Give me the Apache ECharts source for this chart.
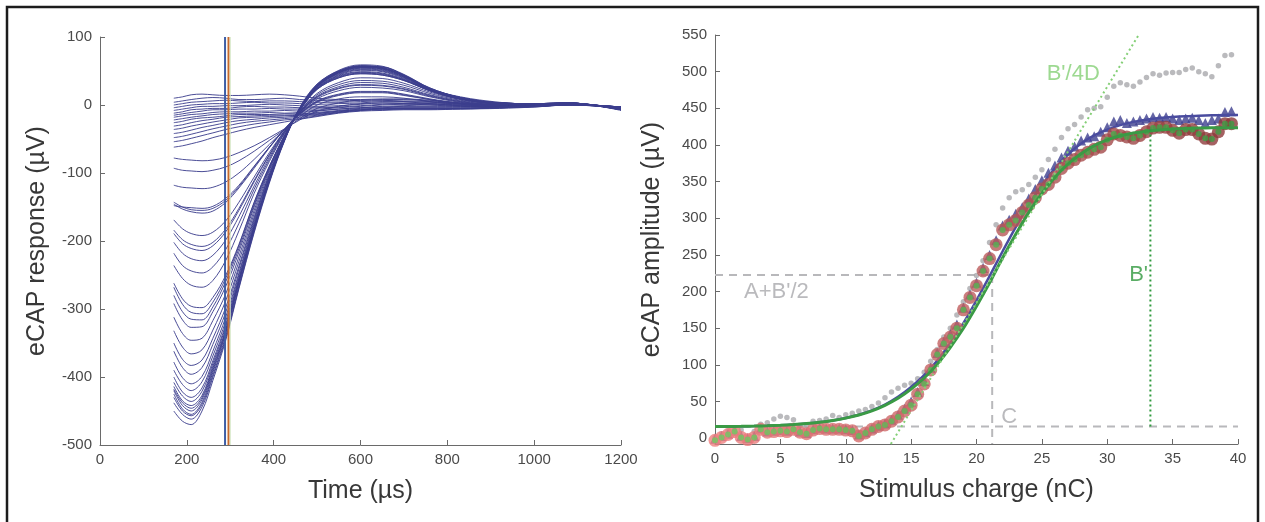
<!DOCTYPE html>
<html>
<head>
<meta charset="utf-8">
<script src="https://cdn.jsdelivr.net/npm/echarts@6/dist/echarts.min.js"></script>
<style>
  html, body { margin: 0; padding: 0; background: #ffffff; }
  #chart { width: 1265px; height: 522px; }
</style>
</head>
<body>
<div id="chart"></div>
<script>
// ---------- Left panel: eCAP waveforms ----------
const traceTimes = [170, 190, 210, 235, 260, 290, 320, 355, 390, 425, 460, 500, 550, 600, 650, 700, 760, 830, 920, 1000, 1080, 1200];

// high-stimulus responses (deep N1 trough)
const deepTraces = [
  [-450,-465,-470,-450,-405,-345,-270,-188,-115,-53,-5,30,51,59,57,45,25,11,3,2,3,-7],
  [-438,-455,-462,-444,-400,-342,-268,-186,-113,-52,-4,31,50,57,56,44,24,12,4,1,2,-6],
  [-430,-450,-457,-440,-397,-339,-266,-184,-112,-52,-6,29,49,58,55,44,25,11,3,1,3,-8],
  [-425,-447,-455,-437,-393,-335,-262,-183,-112,-51,-5,29,50,57,56,44,24,11,3,2,2,-7],
  [-420,-442,-450,-433,-390,-333,-261,-182,-111,-51,-6,28,49,57,55,43,24,10,2,1,3,-6],
  [-418,-438,-446,-430,-387,-331,-259,-180,-110,-50,-4,29,49,56,54,43,24,11,3,2,2,-7],
  [-414,-435,-442,-427,-384,-329,-258,-180,-110,-51,-6,28,48,56,54,43,23,10,2,1,3,-6],
  [-408,-428,-436,-421,-380,-325,-256,-178,-109,-50,-5,28,48,56,54,43,24,10,3,2,3,-7],
  [-400,-422,-430,-416,-376,-322,-254,-177,-108,-50,-6,28,48,55,53,42,23,10,2,1,2,-6],
  [-390,-411,-420,-407,-369,-317,-250,-174,-107,-50,-5,27,47,55,53,42,23,10,3,2,3,-7],
  [-378,-401,-410,-399,-362,-311,-247,-171,-105,-49,-6,27,47,54,52,41,23,10,2,1,2,-6],
  [-362,-386,-396,-386,-352,-304,-241,-168,-103,-49,-6,27,46,53,51,41,23,10,3,2,3,-7],
  [-350,-374,-383,-375,-343,-297,-237,-165,-102,-48,-7,26,45,52,50,40,22,9,2,1,2,-6],
  [-332,-356,-366,-360,-331,-287,-230,-160,-99,-48,-7,25,44,51,49,39,22,10,3,2,3,-7],
  [-312,-336,-346,-343,-317,-277,-223,-155,-96,-47,-7,25,43,49,47,38,22,9,2,1,2,-6],
  [-292,-316,-327,-326,-304,-266,-216,-150,-94,-46,-8,24,42,48,46,37,21,9,3,2,3,-7],
  [-280,-304,-315,-316,-297,-259,-211,-147,-92,-45,-8,24,41,47,45,37,21,9,2,1,2,-6],
  [-268,-293,-305,-307,-290,-254,-207,-144,-91,-45,-8,23,40,46,44,36,21,9,3,2,3,-6],
  [-262,-285,-296,-298,-283,-250,-205,-143,-90,-45,-8,23,40,46,44,36,21,9,2,1,3,-6]
];

// mid-stimulus responses
const midTraces = [
  [-236,-255,-265,-268,-258,-228,-185,-130,-83,-42,-10,17,33,40,39,32,19,8,1,0,2,-5],
  [-218,-236,-244,-247,-238,-212,-174,-124,-80,-41,-10,15,30,36,35,29,17,7,1,0,2,-5],
  [-202,-218,-226,-229,-221,-198,-164,-119,-77,-40,-11,13,27,33,32,26,15,6,0,-1,2,-4],
  [-189,-204,-211,-214,-207,-186,-155,-113,-74,-39,-11,12,25,30,29,24,14,5,0,-1,2,-5],
  [-184,-198,-205,-208,-202,-182,-152,-111,-73,-38,-11,11,24,29,28,23,13,5,0,0,1,-4],
  [-169,-182,-189,-192,-187,-170,-143,-106,-70,-38,-12,9,21,26,25,21,12,4,-1,-1,2,-5],
  [-146,-153,-157,-159,-156,-143,-122,-93,-63,-36,-13,6,16,20,20,16,9,3,-1,-1,2,-4],
  [-143,-150,-154,-155,-152,-140,-120,-91,-62,-35,-13,5,15,19,19,15,8,2,-1,-1,1,-4],
  [-148,-150,-151,-152,-149,-137,-118,-90,-62,-36,-14,4,14,18,18,14,8,2,-2,-1,2,-5],
  [-118,-121,-122,-123,-121,-113,-100,-80,-58,-36,-17,0,9,12,12,10,5,1,-2,-2,1,-4],
  [-93,-96,-97,-98,-96,-91,-82,-68,-52,-36,-20,-5,3,7,7,5,2,-1,-3,-2,1,-4],
  [-78,-80,-81,-82,-81,-77,-70,-60,-48,-35,-22,-9,-2,2,3,2,0,-2,-3,-2,1,-3]
];

// low-stimulus responses (near threshold)
const shallowTraces = [
  [10,12,15,16,15,14,14,15,16,15,13,10,8,8,9,9,7,3,0,-1,1,-3],
  [4,6,8,10,11,10,8,8,9,10,8,7,6,7,8,8,6,3,0,-1,1,-3],
  [0,2,4,5,6,7,6,5,6,6,5,4,4,5,6,6,5,2,0,-1,1,-4],
  [-4,-2,0,1,2,2,3,4,3,3,2,1,2,3,5,5,4,2,-1,-1,1,-3],
  [-8,-6,-4,-2,-2,-1,-1,0,1,0,-1,-2,-1,1,3,3,3,1,-1,-1,0,-3],
  [-12,-10,-7,-6,-5,-5,-3,-2,-3,-3,-4,-4,-3,-1,1,2,2,0,-2,-1,0,-4],
  [-15,-13,-11,-9,-7,-7,-6,-6,-5,-6,-6,-6,-4,-2,0,1,1,0,-2,-2,0,-3],
  [-18,-16,-14,-13,-11,-10,-10,-9,-9,-8,-9,-8,-6,-4,-2,-1,0,-1,-2,-2,0,-3],
  [-22,-20,-18,-16,-14,-13,-12,-12,-11,-12,-11,-9,-6,-4,-3,-2,-2,-2,-3,-2,0,-4],
  [-26,-24,-21,-19,-18,-16,-14,-14,-14,-13,-13,-11,-8,-5,-4,-3,-3,-3,-3,-2,0,-3],
  [-31,-29,-26,-23,-21,-18,-17,-16,-15,-15,-14,-12,-9,-6,-5,-4,-4,-4,-4,-2,1,-3],
  [-36,-34,-31,-28,-25,-22,-19,-18,-17,-16,-15,-13,-9,-7,-5,-5,-5,-5,-4,-2,1,-4],
  [-42,-40,-37,-33,-30,-26,-23,-21,-19,-18,-16,-14,-10,-7,-6,-5,-5,-5,-4,-2,1,-3],
  [-48,-46,-43,-39,-35,-31,-27,-24,-22,-20,-18,-15,-11,-8,-6,-6,-6,-5,-4,-2,1,-3],
  [-54,-52,-49,-45,-41,-36,-32,-28,-25,-22,-20,-16,-11,-8,-7,-6,-6,-6,-4,-3,1,-4],
  [-62,-60,-57,-53,-48,-43,-38,-33,-29,-25,-21,-17,-12,-9,-8,-7,-7,-6,-5,-3,0,-3]
];

// measurement window markers (µs)
const windowStart = 288;
const windowEnd = 296;
const windowEdge = 300;

// ---------- Right panel: amplitude growth function ----------
const charges = [0,0.5,1,1.5,2,2.5,3,3.5,4,4.5,5,5.5,6,6.5,7,7.5,8,8.5,9,9.5,10,10.5,11,11.5,12,12.5,13,13.5,14,14.5,15,15.5,16,16.5,17,17.5,18,18.5,19,19.5,20,20.5,21,21.5,22,22.5,23,23.5,24,24.5,25,25.5,26,26.5,27,27.5,28,28.5,29,29.5,30,30.5,31,31.5,32,32.5,33,33.5,34,34.5,35,35.5,36,36.5,37,37.5,38,38.5,39,39.5];
const grayAmp = [1,6,10,12,11,1,9,19,21,26,30,28,25,17,17,23,24,26,31,28,32,34,37,39,43,48,55,63,68,72,75,81,90,105,121,138,150,168,186,204,222,242,267,291,314,328,336,339,346,356,366,380,394,410,422,428,438,448,450,452,465,480,485,482,480,486,492,497,495,498,499,499,503,505,500,497,493,508,522,523];
const blueAmp = [-1,3,6,10,3,0,3,13,9,10,11,10,13,9,7,12,14,13,13,13,12,11,5,8,13,17,20,25,32,40,50,63,78,96,116,131,142,155,178,196,212,232,250,270,290,298,306,315,327,340,352,362,372,383,392,398,406,410,412,418,424,432,434,430,432,434,436,438,437,438,436,434,436,437,434,430,434,436,445,446];
const redAmp = [-3,1,5,9,1,-2,1,12,8,9,10,9,12,8,6,11,13,12,12,12,11,10,3,7,12,16,18,23,29,37,45,60,74,93,114,129,138,150,175,192,208,228,245,264,284,291,297,308,318,328,340,346,356,368,375,380,386,390,394,397,407,415,413,411,409,413,418,423,424,424,420,416,421,421,415,409,408,418,429,429];

const fitCharges = [0,1,2,3,4,5,6,7,8,9,10,11,12,13,14,15,16,17,18,19,20,21,22,23,24,25,26,27,28,29,30,31,32,33,34,35,36,37,38,39,40];
const greenFit = [15.8,15.9,16.1,16.4,16.9,17.6,18.6,19.9,21.7,24.1,27.3,31.6,37.3,44.8,54.3,66.8,82,101,124,150,180,212,246,278,308,334,356,374,388,399,407,412.5,416.2,418.8,420.5,421.7,422.5,423,423.3,423.5,423.6];
const blueFit = [15.8,15.9,16.1,16.4,16.9,17.6,18.6,19.9,21.7,24.2,27.5,31.9,37.9,45.8,56.3,69.8,86,106,130,157,188,221,255,288,318,345,368,387,402,413,421,427,431.5,434.5,436.7,438.2,439.3,440,440.5,440.8,441];

// sigmoid parameters drawn as guides
const baseLevel = 15.8;        // C
const halfLevel = 222.6;       // A + B'/2
const midCharge = 21.2;
const plateauCharge = 33.3;
const plateauLevel = 422;      // top of B'
const slopeStart = [13.45, -8];
const slopeEnd = [32.4, 550];

const annotationTexts = ["A+B'/2", "C", "B'/4D", "B'"];
const annotationPositions = [[4.7, 200], [22.5, 29], [27.4, 497], [32.4, 222]];

const leftTicksY = [-500, -400, -300, -200, -100, 0, 100];
const rightTicksY = [0, 50, 100, 150, 200, 250, 300, 350, 400, 450, 500, 550];

// ---------- styling ----------
const FONT = '"Liberation Sans", Arial, Helvetica, sans-serif';
const axisColor = '#6a6a6a';
const tickLabelColor = '#4a4a4a';
const titleColor = '#383838';
const traceColor = '#3c3e8d';
const annotationColors = ['#a9a9ad', '#a9a9ad', '#84cf76', '#31993f'];

function mix(a, b, t) {
  return 'rgb(' + a.map((v, i) => Math.round(v + (b[i] - v) * t)).join(',') + ')';
}

// plain numbers, no thousands separator
const plainLabel = v => String(v);

function labelStyle(margin, extra) {
  return Object.assign({ color: tickLabelColor, fontSize: 15, fontFamily: FONT, margin: margin, formatter: plainLabel }, extra || {});
}

function valueAxis(grid, extra) {
  return Object.assign({
    type: 'value',
    gridIndex: grid,
    axisLine: { show: true, onZero: false, lineStyle: { color: axisColor, width: 1 } },
    axisTick: { show: true, inside: true, length: 5, lineStyle: { color: axisColor, width: 1 } },
    axisLabel: labelStyle(7),
    splitLine: { show: false },
    nameLocation: 'middle',
    nameTextStyle: { color: titleColor, fontSize: 25, fontFamily: FONT }
  }, extra);
}

const series = [];

// waveforms
deepTraces.concat(midTraces, shallowTraces).forEach(vals => {
  series.push({
    type: 'line', xAxisIndex: 0, yAxisIndex: 0,
    data: traceTimes.map((t, i) => [t, vals[i]]),
    showSymbol: false, symbol: 'none', smooth: 0.35,
    lineStyle: { width: 1, color: traceColor, opacity: 0.92 },
    silent: true, z: 2
  });
});

// window markers
[[windowStart, '#3e5ea6', 2], [windowEnd, '#c6692c', 2], [windowEdge, '#d4e6c4', 1]].forEach(([t, c, w]) => {
  series.push({
    type: 'line', xAxisIndex: 0, yAxisIndex: 0,
    data: [[t, -500], [t, 100]],
    showSymbol: false, symbol: 'none',
    lineStyle: { width: w, color: c }, silent: true, z: 5
  });
});

// guide lines (dashed grey)
const dashStyle = { width: 2, color: '#b8b8bb', type: [8, 6] };
[
  [[0, halfLevel], [midCharge, halfLevel]],
  [[midCharge, halfLevel], [midCharge, -8]],
  [[0, baseLevel], [40, baseLevel]]
].forEach(seg => {
  series.push({
    type: 'line', xAxisIndex: 1, yAxisIndex: 1, data: seg,
    showSymbol: false, symbol: 'none', lineStyle: dashStyle, silent: true, z: 1
  });
});

// raw amplitudes
series.push({
  type: 'scatter', xAxisIndex: 1, yAxisIndex: 1,
  data: charges.map((c, i) => [c, grayAmp[i]]),
  symbol: 'circle', symbolSize: 5.5,
  itemStyle: { color: '#a9a9ad' }, silent: true, z: 2
});
series.push({
  type: 'scatter', xAxisIndex: 1, yAxisIndex: 1,
  data: charges.map((c, i) => [c, blueAmp[i]]),
  symbol: 'triangle', symbolSize: 10,
  itemStyle: { color: '#3d3f8f' }, silent: true, z: 3
});
series.push({
  type: 'line', xAxisIndex: 1, yAxisIndex: 1,
  data: fitCharges.map((c, i) => [c, blueFit[i]]),
  showSymbol: false, symbol: 'none', smooth: 0.3,
  lineStyle: { width: 2.5, color: '#4a4c9f' }, silent: true, z: 4
});
series.push({
  type: 'scatter', xAxisIndex: 1, yAxisIndex: 1,
  data: charges.map((c, i) => [c, redAmp[i]]),
  symbol: 'circle', symbolSize: 13,
  itemStyle: {
    color: p => mix([240, 128, 128], [138, 56, 56], p.dataIndex / (charges.length - 1))
  },
  silent: true, z: 5
});
series.push({
  type: 'scatter', xAxisIndex: 1, yAxisIndex: 1,
  data: charges.map((c, i) => [c, redAmp[i]]),
  symbol: 'circle', symbolSize: 6,
  itemStyle: {
    color: p => mix([112, 204, 98], [60, 156, 68], p.dataIndex / (charges.length - 1))
  },
  silent: true, z: 6
});
series.push({
  type: 'line', xAxisIndex: 1, yAxisIndex: 1,
  data: fitCharges.map((c, i) => [c, greenFit[i]]),
  showSymbol: false, symbol: 'none', smooth: 0.3,
  lineStyle: { width: 3, color: '#3a9a45' }, silent: true, z: 7
});

// slope tangent and B' span
series.push({
  type: 'line', xAxisIndex: 1, yAxisIndex: 1,
  data: [slopeStart, slopeEnd],
  showSymbol: false, symbol: 'none',
  lineStyle: { width: 2, color: '#84cf76', type: [2, 3] }, silent: true, z: 8
});
series.push({
  type: 'line', xAxisIndex: 1, yAxisIndex: 1,
  data: [[plateauCharge, baseLevel], [plateauCharge, plateauLevel]],
  showSymbol: false, symbol: 'none',
  lineStyle: { width: 2, color: '#2f9a3d', type: [2, 3] }, silent: true, z: 8
});

// parameter labels
series.push({
  type: 'scatter', xAxisIndex: 1, yAxisIndex: 1,
  symbolSize: 0, silent: true, z: 9,
  data: annotationTexts.map((t, i) => ({
    value: annotationPositions[i],
    label: {
      show: true, position: 'inside', formatter: t,
      color: annotationColors[i], fontSize: 22, fontFamily: FONT
    }
  }))
});

const option = {
  animation: false,
  backgroundColor: '#ffffff',
  grid: [
    { left: 100, top: 37, width: 521, height: 408 },
    { left: 715, top: 35, width: 523, height: 409 }
  ],
  xAxis: [
    valueAxis(0, { min: 0, max: 1200, interval: 200, name: 'Time (µs)', nameGap: 34 }),
    valueAxis(1, { min: 0, max: 40, interval: 5, name: 'Stimulus charge (nC)', nameGap: 34 })
  ],
  yAxis: [
    valueAxis(0, { min: -500, max: 100, interval: 100, name: 'eCAP response (µV)', nameGap: 50,
      axisLabel: labelStyle(8, { customValues: leftTicksY }),
      axisTick: { show: true, inside: true, length: 5, lineStyle: { color: axisColor }, customValues: leftTicksY } }),
    valueAxis(1, { min: -8, max: 550, name: 'eCAP amplitude (µV)', nameGap: 50,
      axisLabel: labelStyle(8, { customValues: rightTicksY }),
      axisTick: { show: true, inside: true, length: 5, lineStyle: { color: axisColor }, customValues: rightTicksY } })
  ],
  graphic: [{
    type: 'rect', silent: true, z: 100,
    shape: { x: 7, y: 7, width: 1251, height: 530 },
    style: { fill: 'none', stroke: '#1c1c1c', lineWidth: 2.5 }
  }],
  series: series
};

const chart = echarts.init(document.getElementById('chart'), null, { renderer: 'canvas' });
chart.setOption(option);
</script>
</body>
</html>
